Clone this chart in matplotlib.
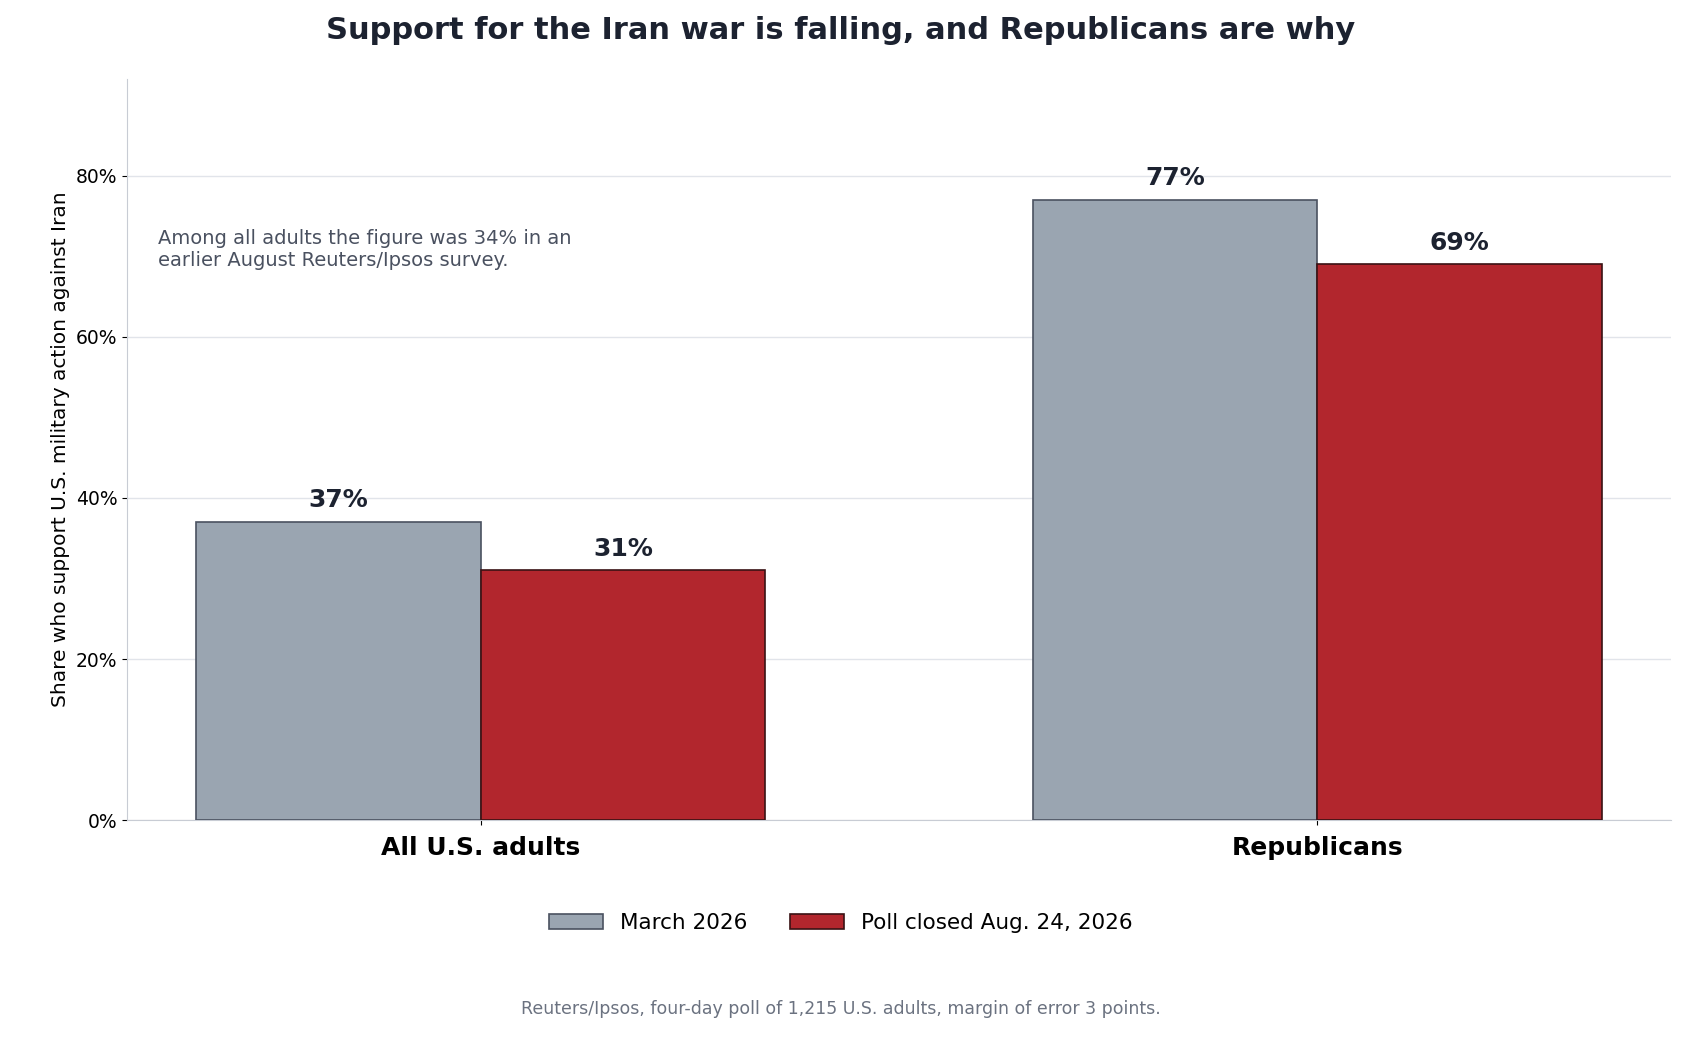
import matplotlib
matplotlib.use("Agg")
import matplotlib.pyplot as plt
import numpy as np
from matplotlib.ticker import PercentFormatter

categories = ["All U.S. adults", "Republicans"]
march = [37, 77]
august = [31, 69]
series_names = ["March 2026", "Poll closed Aug. 24, 2026"]

fig = plt.figure(figsize=(16.82, 10.37), dpi=100)
ax = fig.add_axes([0.0755, 0.209, 0.918, 0.715])
x = np.arange(len(categories))
w = 0.34
b1 = ax.bar(x - w/2, march, w, color="#9aa5b1", edgecolor="#4a5160", linewidth=1.2, label=series_names[0], zorder=3)
b2 = ax.bar(x + w/2, august, w, color="#b2262d", edgecolor="#3a1214", linewidth=1.2, label=series_names[1], zorder=3)
for bars in (b1, b2):
    for r in bars:
        ax.text(r.get_x() + r.get_width()/2, r.get_height() + 1.2, f"{r.get_height():.0f}%",
                ha="center", va="bottom", fontsize=18, fontweight="bold", color="#1c2230")
ax.set_xlim(-0.423, 1.423)
ax.set_ylim(0, 92)
ax.set_yticks([0, 20, 40, 60, 80])
ax.yaxis.set_major_formatter(PercentFormatter(decimals=0))
ax.set_xticks(x)
ax.set_xticklabels(categories, fontsize=18, fontweight="bold")
ax.tick_params(axis="y", labelsize=13.5)
ax.tick_params(axis="x", pad=8)
ax.grid(axis="y", color="#e1e4ea", linewidth=1, zorder=0)
for s in ["top", "right"]:
    ax.spines[s].set_visible(False)
for s in ["left", "bottom"]:
    ax.spines[s].set_color("#c8ccd4")
ax.set_ylabel("Share who support U.S. military action against Iran", fontsize=14.5)
ax.text(0.02, 0.797, "Among all adults the figure was 34% in an\nearlier August Reuters/Ipsos survey.",
        transform=ax.transAxes, fontsize=14, color="#4a5160", va="top", ha="left")
fig.suptitle("Support for the Iran war is falling, and Republicans are why",
             fontsize=22, fontweight="bold", color="#1c2230", y=0.985)
fig.legend(handles=[b1, b2], labels=series_names, loc="center", bbox_to_anchor=(0.5, 0.11),
           ncol=2, frameon=False, fontsize=15.5, handlelength=2.5, columnspacing=2)
fig.text(0.5, 0.022, "Reuters/Ipsos, four-day poll of 1,215 U.S. adults, margin of error 3 points.",
         ha="center", fontsize=12.5, color="#6b7280")
fig.savefig("out.png", dpi=100)
